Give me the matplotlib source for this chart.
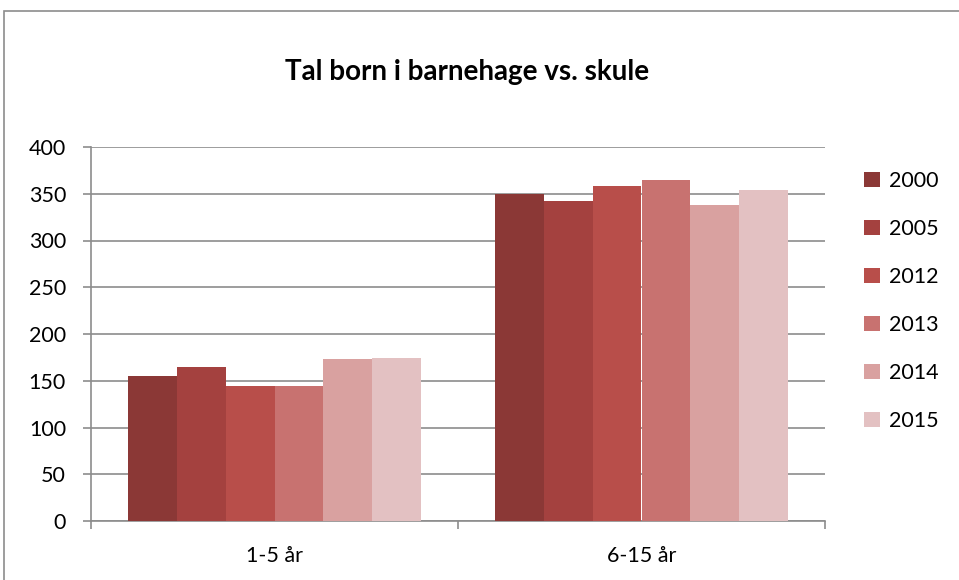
import numpy as np
import matplotlib.pyplot as plt
from matplotlib.patches import Rectangle

plt.rcParams['font.family'] = ['Lato', 'DejaVu Sans']

categories = ['1-5 år', '6-15 år']
years = ['2000', '2005', '2012', '2013', '2014', '2015']
values = [
    [155, 350],  # 2000
    [165, 342],  # 2005
    [144, 358],  # 2012
    [144, 365],  # 2013
    [173, 338],  # 2014
    [174, 354],  # 2015
]
colors = ['#8B3836', '#A4413F', '#B84E4A', '#C87270', '#D9A1A0', '#E3C1C2']

W, H = 959, 580
fig = plt.figure(figsize=(W / 100, H / 100), dpi=100)
ax = fig.add_axes([91 / W, 1 - 521 / H, (825 - 91) / W, (521 - 147) / H])

# outer chart border (cut off at right and bottom)
fig.patches.append(Rectangle((4 / W, -0.1), 1.2, 1 - 11 / H + 0.1,
                             transform=fig.transFigure, fill=False,
                             edgecolor='#8c8c8c', linewidth=1.2))

x = np.arange(len(categories))
group_w = 0.8
bw = group_w / len(years)
for i, (yr, vals) in enumerate(zip(years, values)):
    offs = -group_w / 2 + bw * (i + 0.5)
    ax.bar(x + offs, vals, width=bw, color=colors[i], label=yr, zorder=3)

ax.set_xlim(-0.5, len(categories) - 0.5)
ax.set_ylim(0, 400)
ax.set_yticks(range(0, 401, 50))
ax.yaxis.grid(True, color='#8c8c8c', linewidth=1.2, zorder=0)

ax.set_xticks(x)
ax.set_xticklabels(categories)
ax.tick_params(axis='x', length=0, labelsize=15.5, pad=18)
ax.set_xticks([-0.5, 0.5, 1.5], minor=True)
ax.tick_params(axis='x', which='minor', length=6, color='#8c8c8c', width=1.2)
ax.tick_params(axis='y', length=6, color='#8c8c8c', width=1.2, labelsize=15.5, pad=12)

for side in ['top', 'right']:
    ax.spines[side].set_visible(False)
ax.spines['left'].set_color('#8c8c8c')
ax.spines['left'].set_linewidth(1.2)
ax.spines['bottom'].set_color('#8c8c8c')
ax.spines['bottom'].set_linewidth(1.2)

fig.text(467 / W, 1 - 72 / H, 'Tal born i barnehage vs. skule',
         ha='center', va='center', fontsize=20, fontweight='bold')

ax.legend(loc='upper left', bbox_to_anchor=(864 / W, 1 - 171 / H),
          bbox_transform=fig.transFigure, frameon=False, fontsize=15.5,
          handlelength=0.75, handleheight=0.75, handletextpad=0.4,
          labelspacing=1.3, borderpad=0, borderaxespad=0)

fig.savefig('out.png', dpi=100)
